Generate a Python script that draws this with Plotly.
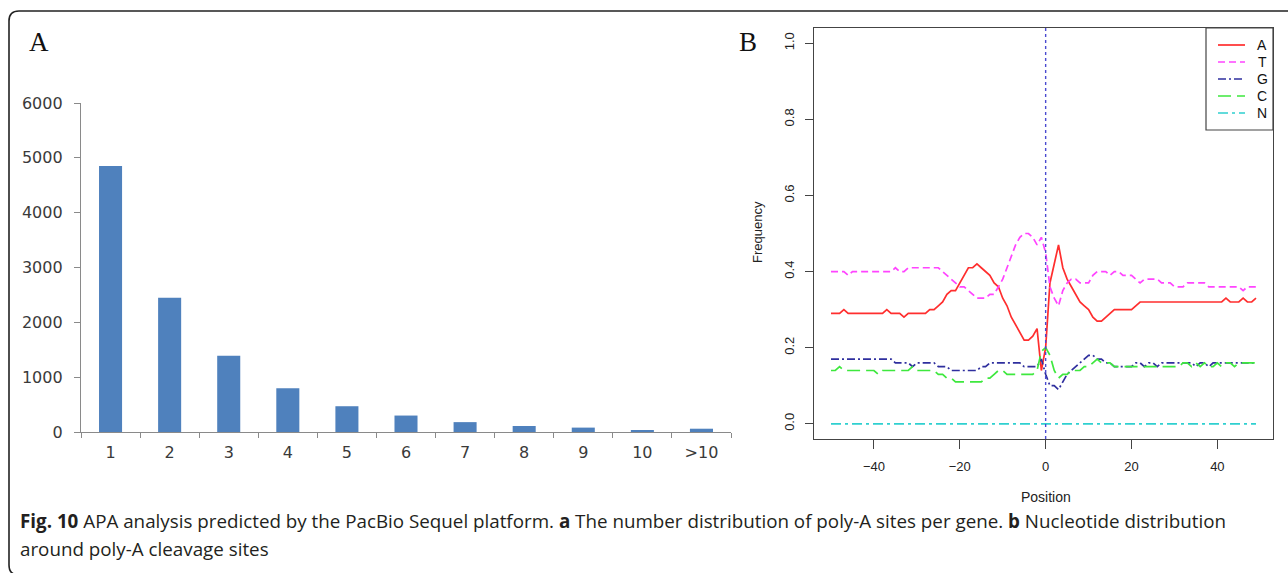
import plotly.graph_objects as go

W, H = 1288, 573

# ---- Panel A: number of poly-A sites per gene ----
site_counts = ["1", "2", "3", "4", "5", "6", "7", "8", "9", "10", ">10"]
gene_numbers = [4850, 2450, 1390, 800, 470, 300, 180, 110, 80, 35, 60]

# ---- Panel B: nucleotide frequency around the cleavage site ----
positions = list(range(-50, 50))
cleavage_pos = 0

freq_A = [
    0.29, 0.29, 0.29, 0.30, 0.29, 0.29, 0.29, 0.29, 0.29, 0.29,
    0.29, 0.29, 0.29, 0.30, 0.29, 0.29, 0.29, 0.28, 0.29, 0.29,
    0.29, 0.29, 0.29, 0.30, 0.30, 0.31, 0.32, 0.34, 0.35, 0.35,
    0.37, 0.39, 0.41, 0.41, 0.42, 0.41, 0.40, 0.39, 0.37, 0.36,
    0.33, 0.31, 0.28, 0.26, 0.24, 0.22, 0.22, 0.23, 0.25, 0.14,
    0.20, 0.37, 0.42, 0.47, 0.41, 0.38, 0.36, 0.34, 0.32, 0.31,
    0.30, 0.28, 0.27, 0.27, 0.28, 0.29, 0.30, 0.30, 0.30, 0.30,
    0.30, 0.31, 0.32, 0.32, 0.32, 0.32, 0.32, 0.32, 0.32, 0.32,
    0.32, 0.32, 0.32, 0.32, 0.32, 0.32, 0.32, 0.32, 0.32, 0.32,
    0.32, 0.32, 0.33, 0.32, 0.32, 0.32, 0.33, 0.32, 0.32, 0.33,
]
freq_T = [
    0.40, 0.40, 0.40, 0.40, 0.39, 0.40, 0.40, 0.40, 0.40, 0.40,
    0.40, 0.40, 0.40, 0.40, 0.40, 0.41, 0.40, 0.40, 0.41, 0.41,
    0.41, 0.41, 0.41, 0.41, 0.41, 0.41, 0.40, 0.39, 0.38, 0.37,
    0.36, 0.36, 0.35, 0.34, 0.33, 0.33, 0.33, 0.34, 0.34, 0.36,
    0.38, 0.41, 0.44, 0.47, 0.49, 0.50, 0.50, 0.49, 0.47, 0.49,
    0.45, 0.36, 0.33, 0.31, 0.35, 0.37, 0.38, 0.38, 0.37, 0.37,
    0.37, 0.39, 0.40, 0.40, 0.40, 0.39, 0.40, 0.40, 0.39, 0.39,
    0.39, 0.38, 0.37, 0.38, 0.38, 0.38, 0.38, 0.37, 0.37, 0.37,
    0.36, 0.36, 0.36, 0.37, 0.37, 0.37, 0.37, 0.37, 0.36, 0.36,
    0.36, 0.36, 0.36, 0.36, 0.36, 0.36, 0.35, 0.36, 0.36, 0.36,
]
freq_G = [
    0.17, 0.17, 0.17, 0.17, 0.17, 0.17, 0.17, 0.17, 0.17, 0.17,
    0.17, 0.17, 0.17, 0.17, 0.17, 0.16, 0.16, 0.16, 0.16, 0.15,
    0.16, 0.16, 0.16, 0.16, 0.16, 0.15, 0.15, 0.15, 0.14, 0.14,
    0.14, 0.14, 0.14, 0.14, 0.14, 0.15, 0.15, 0.16, 0.16, 0.16,
    0.16, 0.16, 0.16, 0.16, 0.16, 0.15, 0.15, 0.15, 0.15, 0.17,
    0.13, 0.10, 0.10, 0.09, 0.11, 0.13, 0.14, 0.15, 0.16, 0.17,
    0.18, 0.18, 0.17, 0.17, 0.16, 0.16, 0.15, 0.15, 0.15, 0.15,
    0.15, 0.16, 0.16, 0.15, 0.16, 0.16, 0.15, 0.16, 0.16, 0.16,
    0.16, 0.16, 0.16, 0.16, 0.16, 0.15, 0.16, 0.16, 0.15, 0.16,
    0.16, 0.16, 0.16, 0.16, 0.16, 0.16, 0.16, 0.16, 0.16, 0.16,
]
freq_C = [
    0.14, 0.14, 0.15, 0.14, 0.14, 0.14, 0.14, 0.14, 0.14, 0.14,
    0.14, 0.13, 0.14, 0.14, 0.14, 0.14, 0.14, 0.14, 0.14, 0.15,
    0.14, 0.14, 0.14, 0.14, 0.14, 0.13, 0.13, 0.12, 0.12, 0.11,
    0.11, 0.11, 0.11, 0.11, 0.11, 0.11, 0.12, 0.12, 0.13, 0.14,
    0.14, 0.13, 0.13, 0.13, 0.13, 0.13, 0.13, 0.13, 0.14, 0.19,
    0.20, 0.18, 0.14, 0.12, 0.13, 0.13, 0.14, 0.14, 0.14, 0.15,
    0.15, 0.16, 0.17, 0.16, 0.16, 0.16, 0.15, 0.15, 0.15, 0.15,
    0.15, 0.15, 0.15, 0.15, 0.15, 0.15, 0.15, 0.15, 0.15, 0.15,
    0.15, 0.15, 0.16, 0.16, 0.15, 0.16, 0.15, 0.16, 0.15, 0.15,
    0.16, 0.15, 0.16, 0.16, 0.15, 0.16, 0.16, 0.16, 0.16, 0.16,
]
freq_N = [0.0] * 100

nucleotides = ["A", "T", "G", "C", "N"]
series = [freq_A, freq_T, freq_G, freq_C, freq_N]
line_colors = ["#ff2e2e", "#ff44ff", "#2f2f9e", "#3ee83e", "#2fd0d0"]
line_dashes = ["solid", "7px,4px", "8px,3px,2px,3px", "13px,6px", "10px,4px,3px,4px"]


def fx(px):
    return px / W


def fy(py):
    return 1 - py / H


fig = go.Figure()

fig.add_trace(go.Bar(
    x=site_counts, y=gene_numbers, width=0.39,
    marker=dict(color="#4f81bd", line=dict(width=0)),
    xaxis="x", yaxis="y", showlegend=False,
))

for name, vals, col, dash in zip(nucleotides, series, line_colors, line_dashes):
    fig.add_trace(go.Scatter(
        x=positions, y=vals, mode="lines", name=name,
        line=dict(color=col, width=1.7, dash=dash),
        xaxis="x2", yaxis="y2", showlegend=False,
    ))

excel_grey = "#8a8a8a"
r_dark = "#444444"
excel_tick_font = dict(family="DejaVu Sans", size=16, color="#3a3a3a")

fig.update_layout(
    width=W, height=H, autosize=False,
    margin=dict(l=0, r=0, t=0, b=0, pad=0, autoexpand=False),
    paper_bgcolor="white", plot_bgcolor="white",
    showlegend=False,
    xaxis=dict(
        domain=[fx(81), fx(731)], anchor="y", type="category", automargin=False,
        range=[-0.5, 10.5], tickson="boundaries",
        ticks="outside", ticklen=5, tickcolor=excel_grey, tickwidth=1,
        showline=True, linecolor=excel_grey, linewidth=1.3,
        showgrid=False, zeroline=False,
        tickfont=excel_tick_font, ticklabelstandoff=6,
    ),
    yaxis=dict(
        domain=[fy(432), fy(103)], anchor="x", automargin=False,
        range=[0, 6000], dtick=1000,
        ticks="outside", ticklen=6, tickcolor=excel_grey, tickwidth=1,
        showline=True, linecolor=excel_grey, linewidth=1.3,
        showgrid=False, zeroline=False,
        tickfont=excel_tick_font, ticklabelstandoff=8,
    ),
    xaxis2=dict(
        domain=[fx(814), fx(1273)], anchor="y2", automargin=False,
        range=[-53.96, 52.96], tickvals=[-40, -20, 0, 20, 40],
        ticks="outside", ticklen=9, tickcolor=r_dark, tickwidth=1,
        showline=True, mirror=True, linecolor=r_dark, linewidth=1.2,
        showgrid=False, zeroline=False,
        tickfont=dict(family="Liberation Sans", size=13, color="#222222"),
        ticklabelstandoff=6,
    ),
    yaxis2=dict(
        domain=[fy(439), fy(28)], anchor="x2", automargin=False,
        range=[-0.04, 1.04],
        tickvals=[0, 0.2, 0.4, 0.6, 0.8, 1.0],
        ticktext=["0.0", "0.2", "0.4", "0.6", "0.8", "1.0"],
        tickangle=-90,
        ticks="outside", ticklen=8, tickcolor=r_dark, tickwidth=1,
        showline=True, mirror=True, linecolor=r_dark, linewidth=1.2,
        showgrid=False, zeroline=False,
        tickfont=dict(family="Liberation Sans", size=13, color="#222222"),
        ticklabelstandoff=6,
    ),
)

# vertical reference line at the cleavage site
fig.add_shape(
    type="line", xref="x2", yref="y2 domain",
    x0=cleavage_pos, x1=cleavage_pos, y0=0, y1=1,
    line=dict(color="#4a4ad0", width=1.4, dash="3px,3px"),
)

# key box for the nucleotide curves (top-right corner of panel B)
key_left, key_right, key_top, key_bottom = 1206, 1273, 28, 130
fig.add_shape(type="rect", xref="paper", yref="paper",
              x0=fx(key_left), x1=fx(key_right), y0=fy(key_bottom), y1=fy(key_top),
              line=dict(color=r_dark, width=1.2), fillcolor="white", layer="above")
for i, (name, col, dash) in enumerate(zip(nucleotides, line_colors, line_dashes)):
    row_y = 45 + 17 * i
    fig.add_shape(type="line", xref="paper", yref="paper",
                  x0=fx(1218), x1=fx(1245), y0=fy(row_y), y1=fy(row_y),
                  line=dict(color=col, width=1.7, dash=dash), layer="above")
    fig.add_annotation(xref="paper", yref="paper", showarrow=False,
                       x=fx(1262), y=fy(row_y), xanchor="center", yanchor="middle",
                       text=name, font=dict(family="Liberation Sans", size=14, color="#111111"))

# rounded frame around the figure
r = 10
frame = (
    f"M {fx(W + 5)},{fy(11)} L {fx(9 + r)},{fy(11)} "
    f"Q {fx(9)},{fy(11)} {fx(9)},{fy(11 + r)} "
    f"L {fx(9)},{fy(H + 2 - r)} Q {fx(9)},{fy(H + 2)} {fx(9 + r)},{fy(H + 2)} "
    f"L {fx(W + 5)},{fy(H + 2)}"
)
fig.add_shape(type="path", xref="paper", yref="paper", path=frame,
              line=dict(color="#222222", width=1.6))

annos = [
    dict(text="A", x=fx(39), y=fy(42), font=dict(family="Liberation Serif", size=27, color="#111111")),
    dict(text="B", x=fx(748), y=fy(42), font=dict(family="Liberation Serif", size=27, color="#111111")),
    dict(text="Frequency", x=fx(757), y=fy(232), textangle=-90,
         font=dict(family="Liberation Sans", size=13, color="#222222")),
    dict(text="Position", x=fx(1046), y=fy(497),
         font=dict(family="Liberation Sans", size=14, color="#222222")),
]
for a in annos:
    fig.add_annotation(xref="paper", yref="paper", showarrow=False,
                       xanchor="center", yanchor="middle", **a)

caption_font = dict(family="Open Sans", size=18.8, color="#231f20")
fig.add_annotation(
    xref="paper", yref="paper", showarrow=False, xanchor="left", yanchor="middle",
    x=fx(18), y=fy(521), font=caption_font, align="left",
    text=("<b>Fig. 10</b> APA analysis predicted by the PacBio Sequel platform. "
          "<b>a</b> The number distribution of poly-A sites per gene. "
          "<b>b</b> Nucleotide distribution"),
)
fig.add_annotation(
    xref="paper", yref="paper", showarrow=False, xanchor="left", yanchor="middle",
    x=fx(18), y=fy(549), font=caption_font, align="left",
    text="around poly-A cleavage sites",
)

fig.write_html("out.html")
